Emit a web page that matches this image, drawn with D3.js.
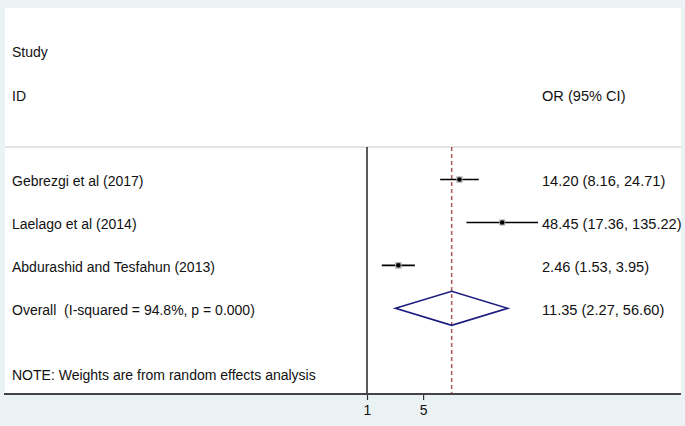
<!DOCTYPE html>
<html><head><meta charset="utf-8">
<script src="https://cdn.jsdelivr.net/npm/d3@7"></script>
<style>
html,body{margin:0;padding:0;background:#eaf2f3;}
svg{display:block;}
text{font-family:"Liberation Sans",Arial,Helvetica,sans-serif;font-size:14px;fill:#111;white-space:pre;}
text.rc{font-size:14.6px;}
</style></head>
<body>
<script>
const studies = ["Gebrezgi et al (2017)", "Laelago et al (2014)", "Abdurashid and Tesfahun (2013)"];
const orValues = [14.20, 48.45, 2.46];
const lowerCI = [8.16, 17.36, 1.53];
const upperCI = [24.71, 135.22, 3.95];
const weights = [33.6, 31.0, 35.4];
const overallLabel = "Overall  (I-squared = 94.8%, p = 0.000)";
const overall = [11.35, 2.27, 56.60];
const headerLeft = ["Study", "ID"];
const headerRight = "OR (95% CI)";
const note = "NOTE: Weights are from random effects analysis";
const tickValues = [1, 5];

const W = 685, H = 426;
const svg = d3.select("body").append("svg").attr("width", W).attr("height", H);

const plot = {x0: 5, x1: 681, y0: 8, y1: 394};
svg.append("rect").attr("x", plot.x0).attr("y", plot.y0)
  .attr("width", plot.x1 - plot.x0).attr("height", plot.y1 - plot.y0).attr("fill", "#fff");

const x = d3.scaleLog().domain([1, 135.22]).range([367, 538]);
const row = d3.scaleLinear().domain([0, 3]).range([179.5, 308.3]);
const sepY = 147;

svg.append("line").attr("x1", plot.x0).attr("x2", plot.x1).attr("y1", sepY).attr("y2", sepY)
  .attr("stroke", "#c8c8c8").attr("stroke-width", 1);

svg.append("line").attr("x1", x(1)).attr("x2", x(1)).attr("y1", sepY).attr("y2", plot.y1)
  .attr("stroke", "#000").attr("stroke-width", 1.3);

svg.append("line").attr("x1", x(overall[0])).attr("x2", x(overall[0])).attr("y1", sepY).attr("y2", plot.y1)
  .attr("stroke", "#a85858").attr("stroke-width", 1.5).attr("stroke-dasharray", "4,3");

function txt(xp, yp, s, cls) {
  return svg.append("text").attr("class", cls || null).attr("x", xp).attr("y", yp)
    .attr("dominant-baseline", "central").attr("xml:space", "preserve").text(s);
}
txt(12, 52, headerLeft[0]);
txt(12, 96, headerLeft[1]);
txt(542, 96, headerRight, "rc");

const fmt = d3.format(".2f");
const data = studies.map((s, i) => ({s, or: orValues[i], lo: lowerCI[i], hi: upperCI[i], w: weights[i], i}));

data.forEach(d => {
  const y = row(d.i);
  svg.append("line").attr("x1", x(d.lo)).attr("x2", x(d.hi)).attr("y1", y).attr("y2", y)
    .attr("stroke", "#000").attr("stroke-width", 1.6);
  const side = Math.sqrt(d.w) * 1.1;
  svg.append("rect").attr("x", x(d.or) - side / 2).attr("y", y - side / 2)
    .attr("width", side).attr("height", side).attr("fill", "#b0b0b0");
  svg.append("circle").attr("cx", x(d.or)).attr("cy", y).attr("r", 2.3).attr("fill", "#000");
  txt(12, y + 1.5, d.s);
  txt(542, y + 1.5, `${fmt(d.or)} (${fmt(d.lo)}, ${fmt(d.hi)})`, "rc");
});

const oy = row(3);
const dh = 17;
svg.append("path")
  .attr("d", `M${x(overall[1])},${oy} L${x(overall[0])},${oy - dh} L${x(overall[2])},${oy} L${x(overall[0])},${oy + dh} Z`)
  .attr("fill", "none").attr("stroke", "#1c1c80").attr("stroke-width", 1.7);
txt(12, oy + 1.5, overallLabel);
txt(542, oy + 1.5, `${fmt(overall[0])} (${fmt(overall[1])}, ${fmt(overall[2])})`, "rc");

txt(12, 375, note);

const axis = d3.axisBottom(x).tickValues(tickValues).tickFormat(d3.format("d")).tickSize(6).tickPadding(5);
const ax = svg.append("g").attr("transform", `translate(0,${plot.y1})`).call(axis);
ax.select(".domain").remove();
ax.selectAll(".tick line").attr("stroke", "#333").attr("stroke-width", 1.2);
ax.selectAll(".tick text").attr("font-size", 14).attr("font-family", "Liberation Sans, Arial, sans-serif").attr("fill", "#111");
svg.append("line").attr("x1", plot.x0 - 1).attr("x2", plot.x1).attr("y1", plot.y1).attr("y2", plot.y1)
  .attr("stroke", "#444").attr("stroke-width", 2);
</script>
</body></html>
